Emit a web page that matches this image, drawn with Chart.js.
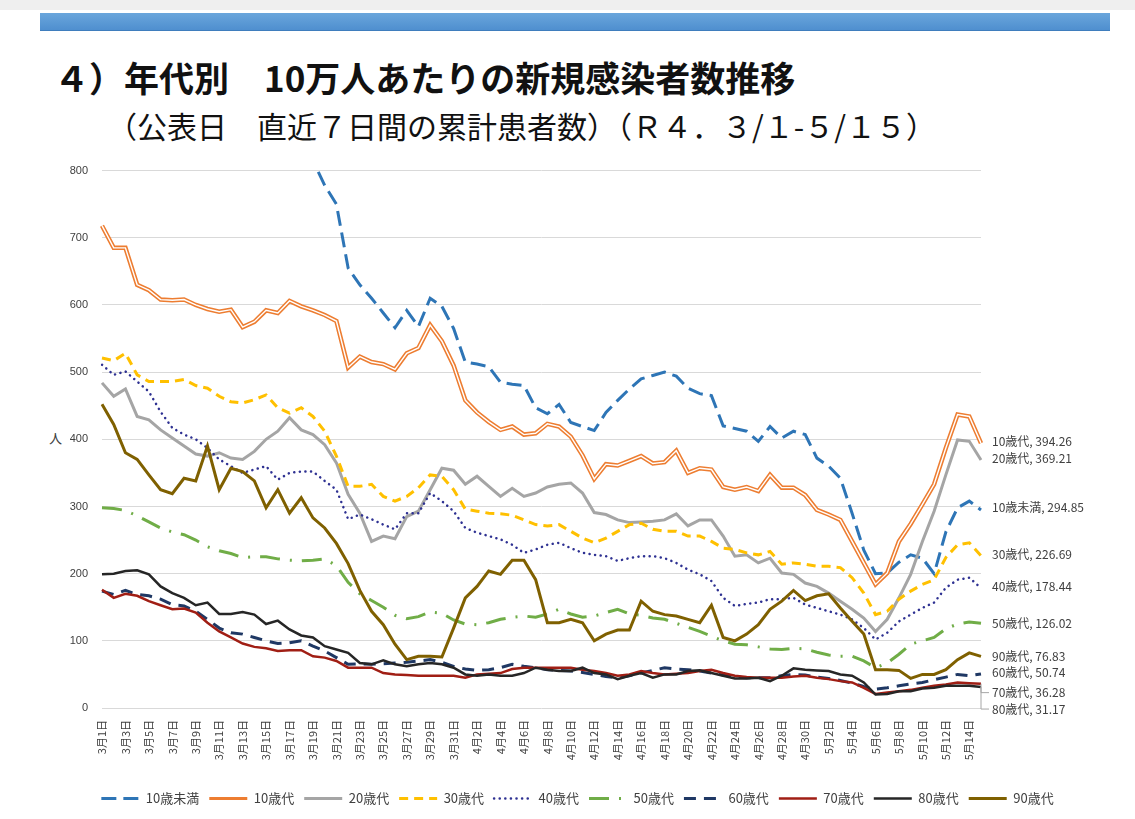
<!DOCTYPE html>
<html lang="ja">
<head>
<meta charset="utf-8">
<script src="https://cdn.jsdelivr.net/npm/chart.js@4.4.1/dist/chart.umd.min.js"></script>
<style>
  body { margin: 0; width: 1135px; height: 819px; background: #fff; position: relative; overflow: hidden;
         font-family: "Noto Sans CJK JP", sans-serif; color: #111; }
  #topband { position: absolute; left: 0; top: 0; width: 1135px; height: 10px; background: #efefef; }
  #bar { position: absolute; left: 40px; top: 13px; width: 1070px; height: 17px;
         background: linear-gradient(#6aa6dc, #4f8fcf); border-bottom: 1px solid #3f7dbd; }
  #title { position: absolute; left: 54px; top: 57px; font-size: 35px; font-weight: bold; line-height: 40px; white-space: nowrap; }
  #sub { position: absolute; left: 107px; top: 106px; font-size: 30px; line-height: 38px; white-space: nowrap; }
  #unit { position: absolute; left: 49px; top: 428px; font-size: 13px; color: #404040; }
  #chart { position: absolute; left: 0; top: 150px; }
</style>
</head>
<body>
<div id="topband"></div>
<div id="bar"></div>
<div id="title">４）年代別　10万人あたりの新規感染者数推移</div>
<div id="sub">（公表日　直近７日間の累計患者数）（Ｒ４．３/１-５/１５）</div>
<div id="unit">人</div>
<canvas id="chart" width="1135" height="669"></canvas>
<script>
// 日付（3/1〜5/15）
const dias = [
  '3月1日','3月2日','3月3日','3月4日','3月5日','3月6日','3月7日','3月8日','3月9日','3月10日',
  '3月11日','3月12日','3月13日','3月14日','3月15日','3月16日','3月17日','3月18日','3月19日','3月20日',
  '3月21日','3月22日','3月23日','3月24日','3月25日','3月26日','3月27日','3月28日','3月29日','3月30日',
  '3月31日','4月1日','4月2日','4月3日','4月4日','4月5日','4月6日','4月7日','4月8日','4月9日',
  '4月10日','4月11日','4月12日','4月13日','4月14日','4月15日','4月16日','4月17日','4月18日','4月19日',
  '4月20日','4月21日','4月22日','4月23日','4月24日','4月25日','4月26日','4月27日','4月28日','4月29日',
  '4月30日','5月1日','5月2日','5月3日','5月4日','5月5日','5月6日','5月7日','5月8日','5月9日',
  '5月10日','5月11日','5月12日','5月13日','5月14日','5月15日'
];

// 10万人あたり 直近7日間累計
const menos10 = [1010,1000,985,975,965,950,945,930,925,915, 905,895,880,875,860,850,845,830,815,778,
  750,655,630,610,588,566,592,568,610,598, 565,515,512,508,485,482,480,447,438,452,
  425,419,413,440,458,475,490,495,500,494, 476,468,465,420,416,412,397,419,402,412,
  407,372,360,342,290,235,200,201,217,228, 223,200,262,298,308,294.85];
const dai10 = [718,685,685,630,622,608,607,608,600,594, 590,593,567,575,592,588,606,598,592,585,
  576,507,523,515,512,504,528,536,570,546, 510,458,440,426,414,419,407,409,423,419,
  404,376,341,363,361,368,375,364,366,383, 350,357,355,329,325,329,323,347,328,328,
  317,295,288,280,248,216,184,201,248,274, 303,333,387,437,434,394.26];
const dai20 = [484,464,475,434,429,414,402,390,378,375, 380,372,370,382,400,412,432,414,407,392,
  365,318,290,248,256,252,285,293,325,357, 354,333,345,330,315,327,315,320,329,333,
  335,320,291,288,280,276,277,278,280,289, 271,280,280,256,226,228,216,223,201,199,
  186,181,171,159,147,134,114,132,164,199, 248,293,347,399,397,369.21];
const dai30 = [521,517,528,496,486,486,486,489,480,476, 464,456,454,459,466,447,439,447,434,412,
  375,330,330,333,315,308,315,328,347,345, 325,296,293,290,289,287,280,273,271,273,
  263,253,246,253,263,273,275,266,263,263, 256,256,248,238,236,231,228,233,214,216,
  214,211,211,209,194,171,139,144,162,174, 184,191,224,243,246,226.69];
const dai40 = [511,496,501,486,471,441,417,407,400,387, 370,360,350,355,360,340,350,352,352,338,
  325,281,288,281,273,266,290,290,320,308, 293,268,261,256,251,243,231,236,243,246,
  238,231,228,226,219,223,226,226,223,216, 206,199,189,164,152,155,157,162,162,164,
  154,149,144,139,132,119,102,112,129,139, 149,157,179,191,194,178.44];
const dai50 = [298,297,294,286,277,268,262,258,250,240, 234,230,224,225,225,222,220,219,220,222,
  212,187,170,160,150,138,133,136,143,141, 131,125,124,127,132,135,137,135,140,147,
  140,135,137,142,147,140,138,134,132,126, 120,114,107,100,95,94,91,88,87,89,
  88,83,79,77,77,70,60,67,80,95, 100,105,118,125,128,126.02];
const dai60 = [174,169,175,169,167,162,154,152,144,132, 119,112,110,105,100,96,97,100,92,85,
  75,65,66,65,66,67,68,70,72,68, 62,58,56,57,60,65,62,60,57,56,
  55,53,50,47,45,48,52,56,60,58, 57,55,52,49,46,45,45,45,48,50,
  49,46,44,41,37,32,28,30,33,36, 38,42,46,50,48,50.74];
const dai70 = [176,164,170,167,159,153,147,148,142,127, 114,105,96,91,89,85,86,86,77,75,
  70,60,60,60,52,50,49,48,48,48, 48,45,50,51,52,58,60,60,60,60,
  60,57,55,52,48,50,55,52,50,51, 52,55,57,52,48,46,45,45,45,47,
  48,45,43,40,38,30,21,23,25,27, 30,33,35,38,37,36.28];
const dai80 = [199,200,204,205,199,181,171,164,153,157, 140,140,143,139,125,130,117,108,105,92,
  87,82,67,65,71,65,62,65,67,65, 60,50,48,50,48,48,52,60,57,55,
  55,60,52,50,43,48,52,45,50,50, 55,56,52,48,44,44,45,40,48,59,
  57,56,55,50,48,38,20,21,25,25, 29,30,33,33,33,31.17];
const dai90 = [452,422,380,370,347,325,319,342,338,390, 325,357,352,338,298,325,290,313,283,268,
  245,215,175,144,124,95,72,77,77,76, 119,164,181,204,199,220,220,191,127,127,
  132,127,100,110,116,116,159,144,139,137, 132,127,153,105,100,110,124,147,159,175,
  160,167,170,149,129,110,57,57,56,44, 50,50,57,72,82,76.83];

const yTicks = [0, 100, 200, 300, 400, 500, 600, 700, 800];

// rótulos no fim de cada linha
const rotulosFim = {
  id: 'rotulosFim',
  afterDatasetsDraw(chart) {
    const ctx = chart.ctx;
    ctx.save();
    ctx.font = '12px "Noto Sans CJK JP"';
    ctx.fillStyle = '#404040';
    ctx.textBaseline = 'middle';
    ctx.strokeStyle = '#a6a6a6';
    ctx.lineWidth = 1;
    chart.data.datasets.forEach((ds, i) => {
      if (!ds.fim) return;
      const pts = chart.getDatasetMeta(i).data;
      const p = pts[pts.length - 1];
      const ly = p.y + ds.fim.dy;
      if (ds.fim.guia) {
        ctx.beginPath();
        ctx.moveTo(p.x, p.y);
        ctx.lineTo(p.x, ly);
        ctx.lineTo(p.x + 8, ly);
        ctx.stroke();
      }
      const v = ds.data[ds.data.length - 1];
      ctx.fillText(ds.label + ', ' + v.toFixed(2), p.x + 11, ly);
    });
    ctx.restore();
  }
};

function linha(label, data, cor, largura, traco, extra) {
  return Object.assign({
    label: label,
    data: data,
    borderColor: cor,
    backgroundColor: cor,
    borderWidth: largura,
    borderDash: traco,
    pointRadius: 0,
    tension: 0,
    fill: false
  }, extra || {});
}

const series = [
  linha('10歳未満', menos10, '#2E75B6', 3, [15, 7], { fim: { dy: -2 } }),
  linha('10歳代', dai10, '#ED7D31', 4.5, [], { fim: { dy: -2 } }),
  linha('10歳代_in', dai10, '#ffffff', 1.4, []),
  linha('20歳代', dai20, '#A5A5A5', 3, [], { fim: { dy: -2 } }),
  linha('30歳代', dai30, '#FFC000', 3, [9, 6], { fim: { dy: -1 } }),
  linha('40歳代', dai40, '#2E3192', 2.5, [0.1, 5.5], { borderCapStyle: 'round', fim: { dy: -2 } }),
  linha('50歳代', dai50, '#70AD47', 3, [20, 10, 2, 10], { fim: { dy: 0 } }),
  linha('60歳代', dai60, '#1F3864', 3, [12, 8], { fim: { dy: -1 } }),
  linha('70歳代', dai70, '#A01E14', 2.5, [], { fim: { dy: 9, guia: true } }),
  linha('80歳代', dai80, '#262626', 2.5, [], { fim: { dy: 22, guia: true } }),
  linha('90歳代', dai90, '#7F6000', 3, [], { fim: { dy: 0 } })
];
// as séries de baixo na lista ficam por cima, como no Excel
series.forEach((s, i) => { s.order = 20 - i; });

// legenda com o tracejado de cada série
function gerarLegenda(chart) {
  const itens = Chart.defaults.plugins.legend.labels.generateLabels(chart);
  itens.forEach((it) => {
    const ds = chart.data.datasets[it.datasetIndex];
    it.lineDash = ds.borderDash;
    it.lineCap = ds.borderCapStyle || 'butt';
    it.strokeStyle = ds.borderColor;
    it.lineWidth = Math.min(ds.borderWidth, 3);
  });
  return itens;
}

const grafico = new Chart(document.getElementById('chart'), {
  type: 'line',
  data: { labels: dias, datasets: series },
  options: {
    responsive: false,
    animation: false,
    devicePixelRatio: 1,
    layout: { padding: { left: 20, right: 0, top: 19, bottom: 4 } },
    scales: {
      x: {
        offset: false,
        grid: { display: false },
        border: { display: false },
        ticks: {
          autoSkip: false,
          minRotation: 90,
          maxRotation: 90,
          padding: 4,
          color: '#404040',
          font: { family: 'Noto Sans CJK JP', size: 11 },
          callback: (v, i) => (i % 2 === 0 ? dias[i] : '')
        },
        afterFit: (s) => { s.height = 74; }
      },
      y: {
        min: 0,
        max: 800,
        afterBuildTicks: (s) => { s.ticks = yTicks.map(v => ({ value: v })); },
        grid: { color: '#d9d9d9', lineWidth: 1, drawTicks: false },
        border: { display: false },
        ticks: { padding: 14, color: '#404040', font: { family: 'Liberation Sans', size: 11 } },
        afterFit: (s) => { s.width = 82; }
      },
      margem: {
        type: 'linear',
        position: 'right',
        grid: { display: false },
        border: { display: false },
        ticks: { display: false },
        afterFit: (s) => { s.width = 154; }
      }
    },
    plugins: {
      tooltip: { enabled: false },
      legend: {
        position: 'bottom',
        labels: {
          usePointStyle: true,
          pointStyle: 'line',
          pointStyleWidth: 38,
          padding: 10,
          color: '#404040',
          font: { family: 'Noto Sans CJK JP', size: 13 },
          generateLabels: gerarLegenda,
          filter: (item) => item.text !== '10歳代_in',
          sort: (a, b) => a.datasetIndex - b.datasetIndex
        }
      }
    }
  },
  plugins: [rotulosFim]
});
</script>
</body>
</html>
